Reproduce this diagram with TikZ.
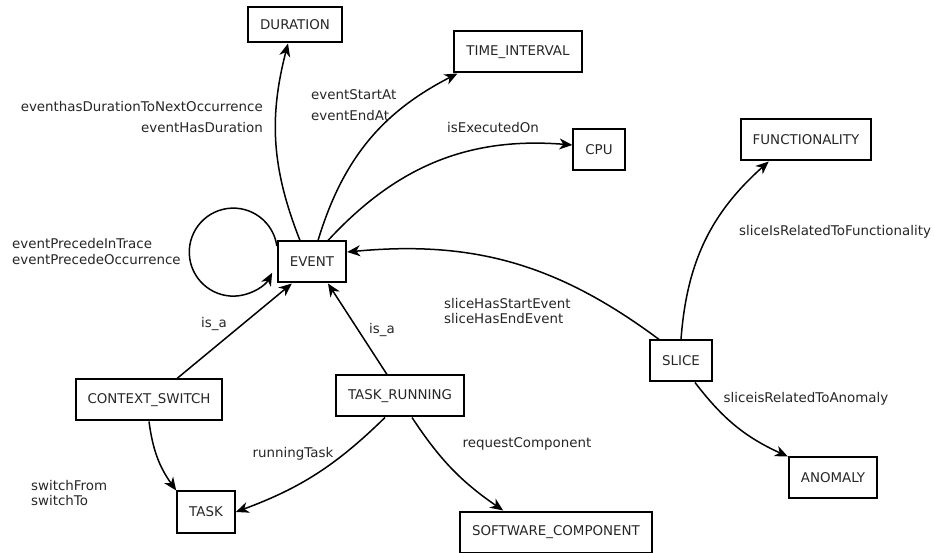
\documentclass[tikz,border=0pt]{standalone}
\usepackage{fontspec}
\setmainfont{DejaVu Sans}
\usetikzlibrary{arrows.meta}

\begin{document}
\begin{tikzpicture}
  [x=1pt,y=1pt,
   every node/.style={font=\fontsize{13.4}{15.5}\selectfont,text=black!85},
   class/.style={draw=black,line width=2pt,inner xsep=12pt,minimum height=41pt},
   lbl/.style={inner sep=0pt},
   rel/.style={line width=1.5pt,-{Stealth[length=13pt,width=11pt,inset=4pt]}}]
  \useasboundingbox (0,0) rectangle (935,552);
  % classes
  \node[class,minimum height=35pt] (duration) at (295,527) {DURATION};
  \node[class] (interval) at (518,500) {TIME\_INTERVAL};
  \node[class] (cpu) at (599,402) {CPU};
  \node[class] (func) at (806,412) {FUNCTIONALITY};
  \node[class] (event) at (312,290) {EVENT};
  \node[class] (slice) at (681,191) {SLICE};
  \node[class] (anomaly) at (833,74) {ANOMALY};
  \node[class] (cswitch) at (149,152) {CONTEXT\_SWITCH};
  \node[class] (trunning) at (400,156) {TASK\_RUNNING};
  \node[class] (task) at (206,40) {TASK};
  \node[class] (swcomp) at (556,20) {SOFTWARE\_COMPONENT};
  % relations
  \draw[rel] ([xshift=-12pt]event.north) to[bend left=18] ([xshift=-7pt]duration.south);
  \draw[rel] ([xshift=6pt]event.north) to[bend left=23] ([xshift=4pt]interval.south west);
  \draw[rel] ([xshift=16pt]event.north) to[bend left=26] ([yshift=5pt]cpu.west);
  \draw[rel] ([yshift=16pt]event.west) arc[start angle=8,end angle=332,radius=44];
  \draw[rel] ([xshift=10pt]slice.north west) to[bend right=21] ([yshift=10pt]event.east);
  \draw[rel] (slice.north) to[bend left=22] ([xshift=29pt]func.south west);
  \draw[rel] ([xshift=14pt]slice.south) to[bend right=14] (anomaly.north west);
  \draw[rel] ([xshift=28pt]cswitch.north) -- ([xshift=15pt]event.south west);
  \draw[rel] ([xshift=-13pt]trunning.north) -- ([xshift=16pt]event.south);
  \draw[rel] (cswitch.south) to[bend right=14] (task.north west);
  \draw[rel] ([xshift=-15pt]trunning.south) to[bend left=12] (task.east);
  \draw[rel] ([xshift=12pt]trunning.south) to[bend right=11] ([xshift=44pt]swcomp.north west);
  % labels
  \node[lbl,anchor=east,align=right] (lDuration) at (263,435)
    {eventhasDurationToNextOccurrence\\[5.5pt]eventHasDuration};
  \node[lbl,anchor=west,align=left] (lInterval) at (311,446.5) {eventStartAt\\[5.5pt]eventEndAt};
  \node[lbl] (lCpu) at (493,424) {isExecutedOn};
  \node[lbl,anchor=west,align=left] (lPrecede) at (12,300.5)
    {eventPrecedeInTrace\\eventPrecedeOccurrence};
  \node[lbl,anchor=west,align=left] (lSlice) at (444,241) {sliceHasStartEvent\\sliceHasEndEvent};
  \node[lbl] (lFunc) at (835,320) {sliceIsRelatedToFunctionality};
  \node[lbl] (lAnomaly) at (806,153) {sliceisRelatedToAnomaly};
  \node[lbl] (lIsA1) at (214,228) {is\_a};
  \node[lbl] (lIsA2) at (382,222) {is\_a};
  \node[lbl] (lRunning) at (293,98) {runningTask};
  \node[lbl] (lRequest) at (527,108) {requestComponent};
  \node[lbl,anchor=west,align=left] (lSwitch) at (31,59) {switchFrom\\switchTo};
\end{tikzpicture}
\end{document}
